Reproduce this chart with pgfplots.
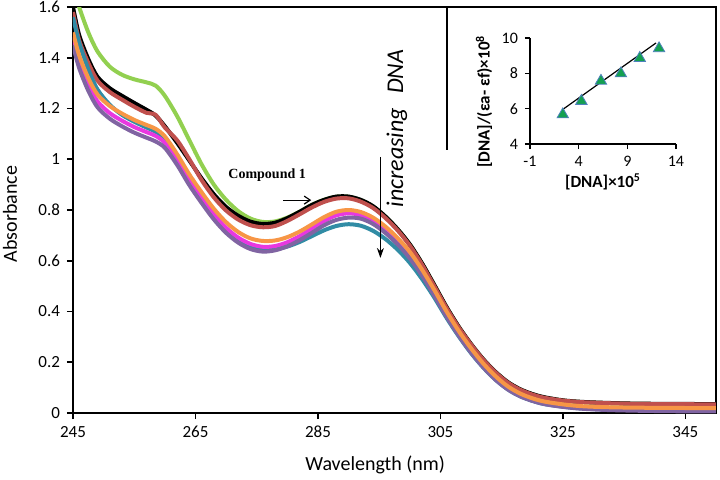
\documentclass[border=0pt]{standalone}
\usepackage{pgfplots}
\pgfplotsset{compat=1.18}
\usepackage{pgfplotstable}
\usepackage{fontspec}
\setmainfont{Carlito}
\newfontfamily\serifb{Liberation Serif}
\usetikzlibrary{arrows.meta}

\definecolor{cgreen}{RGB}{146,208,80}
\definecolor{cred}{RGB}{192,80,77}
\definecolor{corange}{RGB}{247,150,70}
\definecolor{cteal}{RGB}{49,140,165}
\definecolor{cmag}{RGB}{232,56,224}
\definecolor{cpurple}{RGB}{128,100,162}
\definecolor{tri}{RGB}{20,160,80}
\definecolor{triedge}{RGB}{79,129,189}

\pgfplotstableread{
lam G K R O T M P
245 1.68 1.60 1.58 1.50 1.56 1.48 1.45
246 1.60 1.49 1.47 1.41 1.46 1.39 1.36
247.5 1.50 1.395 1.38 1.32 1.355 1.295 1.27
249 1.425 1.325 1.31 1.255 1.275 1.228 1.205
251 1.365 1.28 1.265 1.21 1.215 1.182 1.16
253 1.333 1.25 1.235 1.18 1.175 1.152 1.13
255 1.315 1.222 1.207 1.155 1.148 1.127 1.105
257 1.303 1.195 1.183 1.135 1.125 1.107 1.085
258.5 1.29 1.172 1.175 1.12 1.108 1.092 1.07
260 1.25 1.13 1.125 1.09 1.075 1.065 1.045
262 1.17 1.065 1.075 1.02 1.005 0.998 0.978
264 1.075 0.995 1.0 0.94 0.925 0.918 0.898
266 0.98 0.925 0.918 0.87 0.848 0.848 0.828
268 0.90 0.862 0.85 0.805 0.78 0.783 0.763
270 0.84 0.812 0.798 0.752 0.726 0.73 0.71
272 0.795 0.777 0.762 0.713 0.686 0.691 0.671
274 0.766 0.754 0.74 0.688 0.66 0.666 0.646
276 0.753 0.745 0.732 0.678 0.648 0.655 0.636
278 0.755 0.75 0.737 0.68 0.646 0.658 0.641
280 0.77 0.768 0.757 0.693 0.656 0.673 0.657
282 0.793 0.793 0.783 0.715 0.674 0.697 0.681
284 0.82 0.82 0.81 0.743 0.697 0.727 0.71
286 0.84 0.84 0.832 0.772 0.72 0.757 0.74
288 0.852 0.853 0.845 0.793 0.737 0.779 0.761
290 0.852 0.853 0.846 0.80 0.744 0.787 0.77
292 0.839 0.84 0.833 0.792 0.738 0.78 0.766
294 0.814 0.815 0.808 0.77 0.718 0.758 0.745
296 0.774 0.775 0.769 0.735 0.686 0.723 0.71
298 0.724 0.725 0.72 0.69 0.644 0.678 0.665
300 0.664 0.665 0.66 0.635 0.592 0.623 0.61
302 0.589 0.59 0.585 0.565 0.528 0.553 0.542
304 0.504 0.505 0.50 0.485 0.455 0.474 0.463
306 0.417 0.418 0.414 0.40 0.375 0.389 0.38
308 0.339 0.34 0.337 0.323 0.302 0.313 0.305
310 0.271 0.272 0.27 0.255 0.236 0.245 0.238
312 0.211 0.212 0.21 0.195 0.179 0.186 0.18
314 0.161 0.162 0.16 0.145 0.131 0.137 0.131
316 0.121 0.122 0.12 0.105 0.093 0.098 0.093
318 0.093 0.094 0.092 0.077 0.066 0.07 0.066
320 0.074 0.075 0.073 0.058 0.048 0.052 0.048
322 0.061 0.062 0.06 0.045 0.035 0.039 0.035
325 0.049 0.05 0.049 0.034 0.025 0.028 0.024
328 0.043 0.044 0.043 0.027 0.018 0.021 0.017
332 0.039 0.04 0.039 0.023 0.014 0.016 0.012
337 0.036 0.037 0.036 0.021 0.012 0.013 0.009
343 0.035 0.036 0.035 0.02 0.011 0.012 0.007
350 0.034 0.035 0.034 0.019 0.01 0.011 0.006
}\spectra

\pgfplotstableread{
x y
2.37 5.67
4.28 6.43
6.29 7.57
8.34 7.99
10.28 8.86
12.26 9.41
}\inset

\begin{document}
\begin{tikzpicture}
\path[use as bounding box] (-36.5pt,-33pt) rectangle (323.5pt,206.5pt);
\begin{axis}[
  at={(0pt,0pt)}, anchor=south west,
  scale only axis, width=321.5pt, height=203pt,
  xmin=245, xmax=350, ymin=0, ymax=1.6,
  xtick={245,265,285,305,325,345},
  ytick={0,0.2,0.4,0.6,0.8,1,1.2,1.4,1.6},
  xtick pos=left, ytick pos=left,
  tick align=outside, major tick length=3pt,
  axis line style={line width=0.8pt},
  every tick/.style={black, line width=0.8pt},
  /pgf/number format/assume math mode=true,
  tick label style={font=\fontsize{8.5}{10}\selectfont},
  xlabel={Wavelength (nm)}, ylabel={Absorbance},
  every axis x label/.style={at={(axis description cs:0.47,0)}, anchor=center, yshift=-26pt, font=\fontsize{10}{12}\selectfont},
  every axis y label/.style={at={(axis description cs:-0.098,0.49)}, anchor=center, rotate=90, font=\fontsize{10}{12}\selectfont},
]
\addplot[cgreen, line width=2pt, smooth] table[x=lam, y=G] {\spectra};
\addplot[black, line width=2pt, smooth] table[x=lam, y=K] {\spectra};
\addplot[cred, line width=2pt, smooth] table[x=lam, y=R] {\spectra};
\addplot[cteal, line width=2pt, smooth] table[x=lam, y=T] {\spectra};
\addplot[cmag, line width=2pt, smooth] table[x=lam, y=M] {\spectra};
\addplot[cpurple, line width=2pt, smooth] table[x=lam, y=P] {\spectra};
\addplot[corange, line width=2pt, smooth] table[x=lam, y=O] {\spectra};
\node[font=\serifb\bfseries\fontsize{7}{8}\selectfont] at (axis cs:276.7,0.938) {Compound 1};
\draw[line width=0.6pt, -{Straight Barb[length=3pt,width=4pt]}] (axis cs:279.3,0.839) -- (axis cs:283.9,0.839);
\draw[line width=0.6pt, -{Stealth[length=5pt,width=3.5pt]}] (axis cs:295.2,1.009) -- (axis cs:295.2,0.611);
\node[rotate=90, font=\itshape\fontsize{12}{14}\selectfont] at (axis cs:297.9,1.121) {increasing\hspace{7pt}DNA};
\end{axis}
\draw[line width=0.6pt] (187pt,203pt) -- (187pt,131.5pt);
\begin{axis}[
  at={(228.5pt,134.5pt)}, anchor=south west,
  scale only axis, width=73pt, height=53pt,
  xmin=-1, xmax=14, ymin=4, ymax=10,
  xtick={-1,4,9,14}, ytick={4,6,8,10},
  axis x line*=bottom, axis y line*=left,
  tick align=outside, major tick length=2.5pt,
  axis line style={line width=0.6pt},
  every tick/.style={black, line width=0.6pt},
  /pgf/number format/assume math mode=true,
  tick label style={font=\fontsize{8}{9}\selectfont},
  xlabel={[DNA]×10\textsuperscript{5}},
  ylabel={[DNA]/(εa- εf)×10\textsuperscript{8}},
  every axis x label/.style={at={(axis description cs:0.5,0)}, anchor=center, yshift=-19pt, font=\bfseries\fontsize{8.5}{10}\selectfont},
  every axis y label/.style={at={(axis description cs:-0.315,0.40)}, anchor=center, rotate=90, font=\bfseries\fontsize{8.5}{10}\selectfont},
  clip=false,
]
\addplot[black, line width=0.6pt] coordinates {(2.3,5.93) (11.95,9.72)};
\addplot[only marks, mark=triangle*, mark size=3.3pt, mark options={fill=tri, draw=triedge, line width=0.4pt}] table[x=x, y=y] {\inset};
\end{axis}
\end{tikzpicture}
\end{document}
